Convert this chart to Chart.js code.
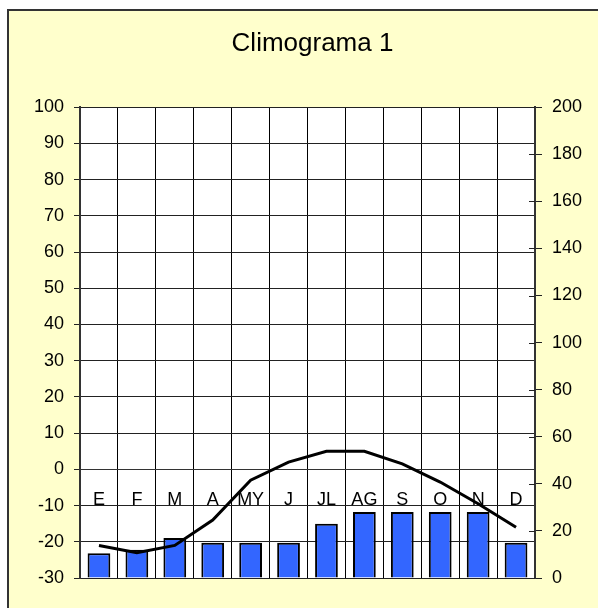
<!DOCTYPE html>
<html lang="es">
<head>
<meta charset="UTF-8">
<title>Climograma 1</title>
<script src="https://cdn.jsdelivr.net/npm/chart.js@4"></script>
<style>
    html, body { margin: 0; padding: 0; background: #fff; overflow: hidden; }
    #frame {
        position: absolute;
        left: 7px;
        top: 9px;
        border: 2px solid #333;
        background: #FFFFCC;
    }
    canvas { display: block; }
</style>
</head>
<body>
<div id="frame">
    <canvas id="climoChart" width="612" height="620"></canvas>
</div>

<script>
// Months (category labels)
var months = ['E', 'F', 'M', 'A', 'MY', 'J', 'JL', 'AG', 'S', 'O', 'N', 'D'];
// Temperature (left axis, line)
var temperature = [-21, -23, -21, -14, -3, 2, 5, 5, 1.5, -3.5, -9.5, -16];
// Precipitation (right axis, bars)
var precipitation = [10.5, 12, 17, 15, 15, 15, 23, 28, 28, 28, 28, 15];

var fontFamily = '"Liberation Sans", Arial, sans-serif';

// White plot area and inner half of the right axis cross ticks
var plotBackground = {
    id: 'plotBackground',
    beforeDraw: function(chart) {
        var a = chart.chartArea, c = chart.ctx;
        c.save();
        c.fillStyle = '#ffffff';
        c.fillRect(a.left, a.top, a.right - a.left, a.bottom - a.top);
        c.restore();
    },
    afterDraw: function(chart) {
        var s = chart.scales.y2, c = chart.ctx;
        c.save();
        c.strokeStyle = '#222';
        c.lineWidth = 1;
        s.ticks.forEach(function(t) {
            var py = Math.round(s.getPixelForValue(t.value)) + 0.5;
            c.beginPath();
            c.moveTo(s.left - 6, py);
            c.lineTo(s.left, py);
            c.stroke();
        });
        c.restore();
    }
};

var ctx = document.getElementById('climoChart').getContext('2d');

var climoChart = new Chart(ctx, {
    data: {
        labels: months,
        datasets: [{
            type: 'line',
            label: 'Temperatura',
            data: temperature,
            yAxisID: 'y',
            borderColor: '#000',
            borderWidth: 3,
            pointRadius: 0,
            tension: 0,
            fill: false,
            order: 0
        }, {
            type: 'bar',
            label: 'Precipitación',
            data: precipitation,
            yAxisID: 'y2',
            backgroundColor: '#3366FF',
            borderColor: '#000',
            borderWidth: 2,
            categoryPercentage: 0.6,
            barPercentage: 1.0,
            order: 1
        }]
    },
    options: {
        responsive: false,
        animation: false,
        layout: { padding: { left: 0, right: 5, top: 0, bottom: 53 } },
        plugins: {
            legend: { display: false },
            tooltip: { enabled: false },
            title: {
                display: true,
                text: 'Climograma 1',
                color: '#000',
                font: { family: fontFamily, size: 26, weight: 'normal', lineHeight: 1.2 },
                padding: { top: 17, bottom: 48 }
            }
        },
        scales: {
            x: {
                position: { y: 0 },
                offset: true,
                grid: {
                    offset: true,
                    color: '#000',
                    lineWidth: 1,
                    drawTicks: false
                },
                border: { color: '#333', width: 1 },
                ticks: {
                    color: '#000',
                    padding: 20,
                    maxRotation: 0,
                    autoSkip: false,
                    font: { family: fontFamily, size: 18 }
                }
            },
            y: {
                position: 'left',
                min: -30,
                max: 100,
                ticks: {
                    stepSize: 10,
                    color: '#000',
                    padding: 10,
                    font: { family: fontFamily, size: 18 }
                },
                grid: { color: '#222', lineWidth: 1, tickLength: 6 },
                border: { color: '#333', width: 2 },
                afterFit: function(scale) { scale.width = 71; }
            },
            y2: {
                position: 'right',
                min: 0,
                max: 200,
                ticks: {
                    stepSize: 20,
                    color: '#000',
                    padding: 10,
                    font: { family: fontFamily, size: 18 }
                },
                grid: { drawOnChartArea: false, color: '#222', lineWidth: 1, tickLength: 7 },
                border: { color: '#333', width: 2 },
                afterFit: function(scale) { scale.width = 81; }
            }
        }
    },
    plugins: [plotBackground]
});
</script>
</body>
</html>
